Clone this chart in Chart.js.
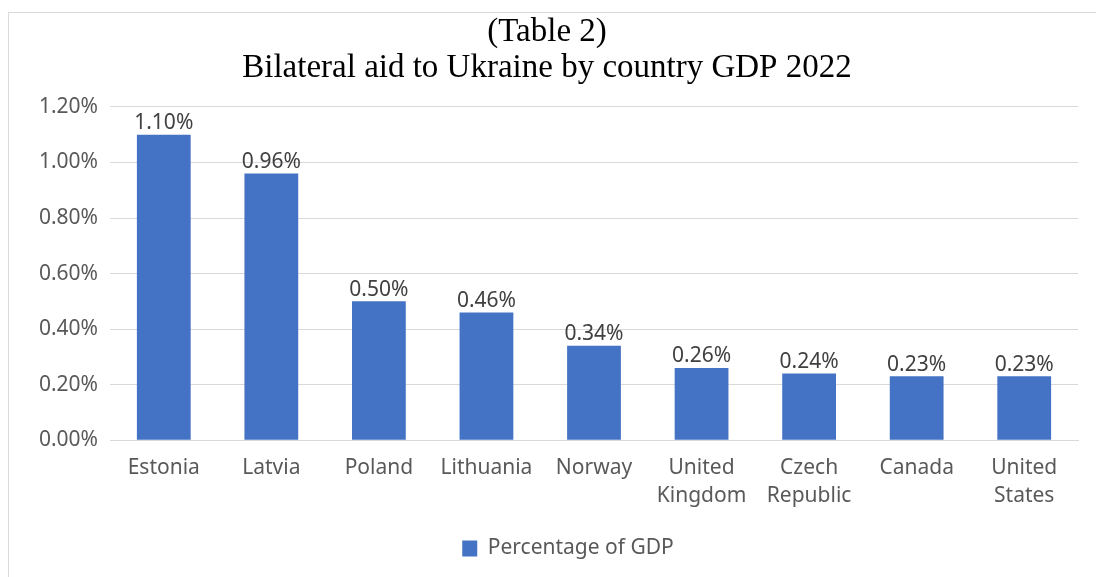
<!DOCTYPE html>
<html>
<head>
<meta charset="utf-8">
<script src="https://cdn.jsdelivr.net/npm/chart.js@4/dist/chart.umd.min.js"></script>
<style>
html,body{margin:0;padding:0;background:#fff;overflow:hidden;}
#frame{position:absolute;left:8px;top:12px;width:1300px;height:800px;border:1px solid #d9d9d9;}
#wrap{position:absolute;left:0;top:0;width:1096px;height:577px;}
</style>
</head>
<body>
<div id="frame"></div>
<div id="wrap"><canvas id="c" width="1096" height="577"></canvas></div>
<script>
const categories = ['Estonia', 'Latvia', 'Poland', 'Lithuania', 'Norway', ['United', 'Kingdom'], ['Czech', 'Republic'], 'Canada', ['United', 'States']];
const seriesName = 'Percentage of GDP';
const values = [1.10, 0.96, 0.50, 0.46, 0.34, 0.26, 0.24, 0.23, 0.23];
const titleLines = ['(Table 2)', 'Bilateral aid to Ukraine by country GDP 2022'];
const yMin = 0, yMax = 1.2, yStep = 0.2;

const labelPlugin = {
  id: 'barLabels',
  afterDatasetsDraw(chart) {
    const ctx = chart.ctx;
    const meta = chart.getDatasetMeta(0);
    ctx.save();
    ctx.font = '21px "Noto Sans"';
    ctx.fillStyle = '#404040';
    ctx.textAlign = 'center';
    ctx.textBaseline = 'bottom';
    meta.data.forEach((el, i) => {
      ctx.fillText(values[i].toFixed(2) + '%', el.x, el.y - 1);
    });
    ctx.restore();
  }
};

const boxShift = {
  id: 'boxShift',
  afterLayout(chart) {
    if (chart.legend) {
      chart.legend.left += 29;
      chart.legend.right += 29;
    }
    if (chart.titleBlock) {
      chart.titleBlock.left += 8;
      chart.titleBlock.right += 8;
    }
  }
};

new Chart(document.getElementById('c'), {
  type: 'bar',
  data: {
    labels: categories,
    datasets: [{
      label: seriesName,
      data: values,
      backgroundColor: '#4472C4',
      borderWidth: 0,
      barPercentage: 1,
      categoryPercentage: 0.5
    }]
  },
  options: {
    responsive: false,
    animation: false,
    devicePixelRatio: 1,
    layout: { padding: { left: 0, right: 18, top: 0, bottom: 8 } },
    plugins: {
      title: {
        display: true,
        text: titleLines,
        color: '#000',
        font: { family: '"Liberation Serif", serif', size: 33, weight: 'normal', lineHeight: 1.09 },
        padding: { top: 14, bottom: 21 }
      },
      legend: {
        position: 'bottom',
        labels: {
          color: '#595959',
          font: { family: '"Noto Sans"', size: 21 },
          boxWidth: 15,
          boxHeight: 16,
          padding: 14
        }
      },
      tooltip: { enabled: false }
    },
    scales: {
      x: {
        grid: { display: false, drawTicks: false },
        border: { display: true, color: '#d9d9d9', width: 1 },
        ticks: {
          color: '#595959',
          font: { family: '"Noto Sans"', size: 21, lineHeight: 1.33 },
          padding: 14,
          maxRotation: 0,
          autoSkip: false
        }
      },
      y: {
        min: yMin,
        max: yMax,
        afterFit(scale) { scale.width = 110; },
        grid: { color: '#d9d9d9', drawTicks: false },
        border: { display: false },
        ticks: {
          stepSize: yStep,
          color: '#595959',
          font: { family: '"Noto Sans"', size: 21 },
          padding: 12,
          callback: v => v.toFixed(2) + '%'
        }
      }
    }
  },
  plugins: [labelPlugin, boxShift]
});
</script>
</body>
</html>
